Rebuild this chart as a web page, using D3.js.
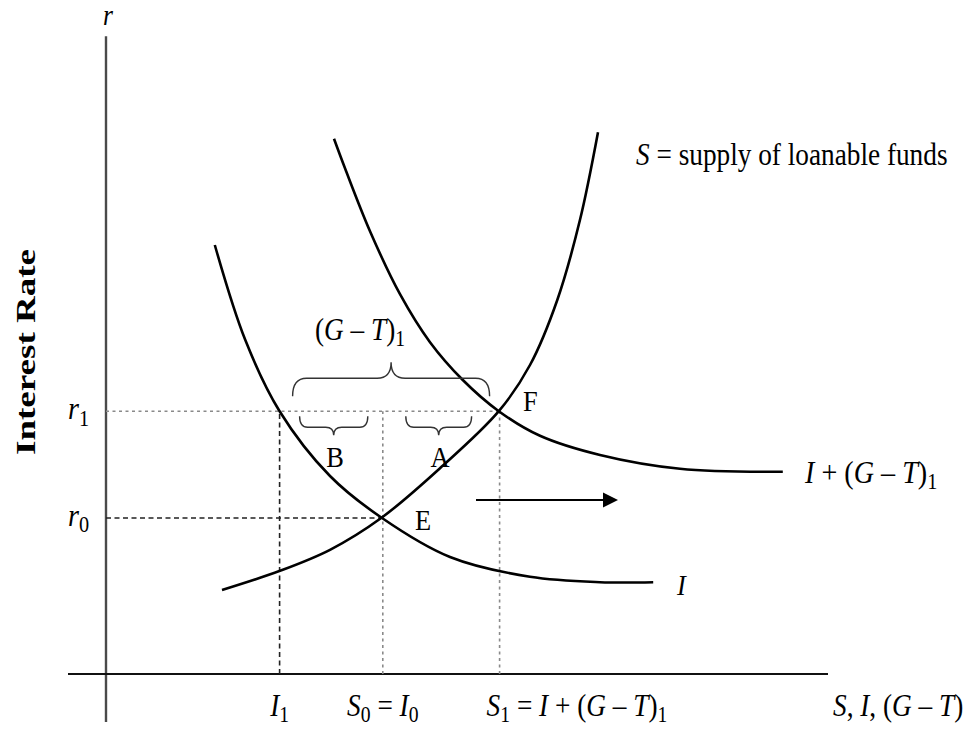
<!DOCTYPE html>
<html>
<head>
<meta charset="utf-8">
<script src="https://cdn.jsdelivr.net/npm/d3@7"></script>
<style>
  body { margin: 0; background: #fff; }
  text { white-space: pre; }
</style>
</head>
<body>
<div id="chart"></div>
<script>
// Curves of the loanable funds diagram, in (quantity, interest rate) units.
const supplyCurve = [[14.5, 14], [21.75, 17.2], [28, 20.7], [34.4, 26], [41.75, 34.3], [49.1, 43.8],
    [53, 51.5], [56.4, 62.3], [59.25, 75.7], [61.5, 90.3]];
const investCurve = [[13.6, 71.5], [17.4, 55.7], [21.7, 43.8], [28, 33], [34.5, 26], [43, 19.5],
    [53, 16.2], [61.75, 15.3], [68.4, 15.3]];
const shiftedCurve = [[28.5, 89.2], [29.9, 84.2], [33, 73.8], [36.75, 63.3], [40.5, 55.3], [44.6, 49],
    [49.1, 43.8], [54.25, 39.7], [61.75, 36.5], [71.75, 34.2], [84.6, 33.7]];

// Interest rate levels and quantities marked on the axes.
const r0 = 26, r1 = 43.8;
const I1 = 21.7, S0 = 34.6, S1 = 49.2;
const arrowFrom = [46.25, 29], arrowTo = [64, 29];

const FONT = "'Liberation Serif', 'Times New Roman', serif";
const SX = 0.88; // glyphs in the source look a bit narrow

const svg = d3.select("#chart").append("svg")
    .attr("width", 973)
    .attr("height", 729);

svg.append("rect").attr("width", 973).attr("height", 729).attr("fill", "#fff");

const x = d3.scaleLinear().domain([0, 100]).range([106, 906]);
const y = d3.scaleLinear().domain([0, 100]).range([674, 74]);

// Axes (no ticks, just the two lines)
svg.append("line")
    .attr("x1", x(0)).attr("x2", x(0))
    .attr("y1", y(106.3)).attr("y2", y(-8))
    .attr("stroke", "#4a4a4a").attr("stroke-width", 2.4);
svg.append("line")
    .attr("x1", x(-4.75)).attr("x2", x(90.25))
    .attr("y1", y(0)).attr("y2", y(0))
    .attr("stroke", "#111").attr("stroke-width", 2);

// Guide lines
const dashed = { color: "#222", dash: "5,3.5" };
const dotted = { color: "#8a8a8a", dash: "3,3.5" };
const guides = [
    [[0, r1], [S1, r1], dotted],
    [[0, r0], [S0, r0], dashed],
    [[I1, 0], [I1, r1], dashed],
    [[S0, 0], [S0, r1], dotted],
    [[S1, 0], [S1, r1], dotted]
];
guides.forEach(([a, b, st]) => {
    svg.append("line")
        .attr("x1", x(a[0])).attr("y1", y(a[1]))
        .attr("x2", x(b[0])).attr("y2", y(b[1]))
        .attr("stroke", st.color)
        .attr("stroke-width", 1.6)
        .attr("stroke-dasharray", st.dash);
});

// The three curves
const line = d3.line()
    .x(d => x(d[0]))
    .y(d => y(d[1]))
    .curve(d3.curveCatmullRom.alpha(0.5));

[supplyCurve, investCurve, shiftedCurve].forEach(c => {
    svg.append("path")
        .attr("d", line(c))
        .attr("fill", "none")
        .attr("stroke", "#000")
        .attr("stroke-width", 2.6);
});

// Curly braces: tipUp means the point is on top and the ends hang down
function brace(x0, x1, yl, tipUp, h, t, r) {
    const d = tipUp ? -1 : 1;
    const xm = (x0 + x1) / 2;
    const p = d3.path();
    p.moveTo(x0, yl - d * h);
    p.quadraticCurveTo(x0, yl, x0 + r, yl);
    p.lineTo(xm - r, yl);
    p.quadraticCurveTo(xm, yl, xm, yl + d * t);
    p.quadraticCurveTo(xm, yl, xm + r, yl);
    p.lineTo(x1 - r, yl);
    p.quadraticCurveTo(x1, yl, x1, yl - d * h);
    svg.append("path")
        .attr("d", p.toString())
        .attr("fill", "none")
        .attr("stroke", "#333")
        .attr("stroke-width", 1.4);
}
brace(x(I1) + 13, x(S1) - 10, y(r1) - 33, true, 18, 16, 14);
brace(x(I1) + 20, x(S0) - 15, y(r1) + 16, false, 11, 8, 8);
brace(x(S0) + 23, x(S1) - 28, y(r1) + 16, false, 11, 8, 8);

// Shift arrow
svg.append("line")
    .attr("x1", x(arrowFrom[0])).attr("y1", y(arrowFrom[1]))
    .attr("x2", x(arrowTo[0]) - 12).attr("y2", y(arrowTo[1]))
    .attr("stroke", "#000").attr("stroke-width", 2);
const ax = x(arrowTo[0]), ay = y(arrowTo[1]);
svg.append("path")
    .attr("d", `M${ax},${ay} L${ax - 15},${ay - 7.5} L${ax - 15},${ay + 7.5} Z`)
    .attr("fill", "#000");

// Text with italic letters and subscripts
function label(px, py, parts, size, anchor) {
    const t = svg.append("text")
        .attr("transform", `translate(${px},${py}) scale(${SX},1)`)
        .attr("font-family", FONT)
        .attr("font-size", size)
        .attr("text-anchor", anchor || "start")
        .attr("fill", "#000");
    let low = false;
    parts.forEach(([str, st]) => {
        const ts = t.append("tspan").text(str);
        if (st === "i") ts.attr("font-style", "italic");
        if (st === "s") {
            ts.attr("font-size", size * 0.72).attr("dy", size * 0.2);
            low = true;
        } else if (low) {
            ts.attr("dy", -size * 0.2);
            low = false;
        }
    });
    return t;
}

label(108, 25, [["r", "i"]], 29, "middle");
svg.append("text")
    .attr("transform", "translate(35,352) rotate(-90)")
    .attr("font-family", FONT)
    .attr("font-weight", "bold")
    .attr("font-size", 27)
    .attr("text-anchor", "middle")
    .attr("textLength", 206)
    .attr("lengthAdjust", "spacingAndGlyphs")
    .text("Interest Rate");

label(68, y(r1) + 8, [["r", "i"], ["1", "s"]], 32);
label(68, y(r0) + 8, [["r", "i"], ["0", "s"]], 32);

label(360, 340, [["(", ""], ["G", "i"], [" \u2013 ", ""], ["T", "i"], [")", ""], ["1", "s"]], 31, "middle");
label(335, 467, [["B", ""]], 30, "middle");
label(440, 467, [["A", ""]], 30, "middle");
label(523, 411, [["F", ""]], 30);
label(415, 530, [["E", ""]], 30);

label(636, 165, [["S", "i"], [" = supply of loanable funds", ""]], 31);
label(805, 483, [["I", "i"], [" + (", ""], ["G", "i"], [" \u2013 ", ""], ["T", "i"], [")", ""], ["1", "s"]], 32);
label(677, 595, [["I", "i"]], 30);

// Axis labels under the quantity axis
label(x(I1), 716, [["I", "i"], ["1", "s"]], 31, "middle");
label(x(S0), 716, [["S", "i"], ["0", "s"], [" = ", ""], ["I", "i"], ["0", "s"]], 31, "middle");
label(x(S1) - 13, 716, [["S", "i"], ["1", "s"], [" = ", ""], ["I", "i"], [" + (", ""], ["G", "i"], [" \u2013 ", ""], ["T", "i"], [")", ""], ["1", "s"]], 31);
label(833, 716, [["S", "i"], [", ", ""], ["I", "i"], [", (", ""], ["G", "i"], [" \u2013 ", ""], ["T", "i"], [")", ""]], 31);
</script>
</body>
</html>
